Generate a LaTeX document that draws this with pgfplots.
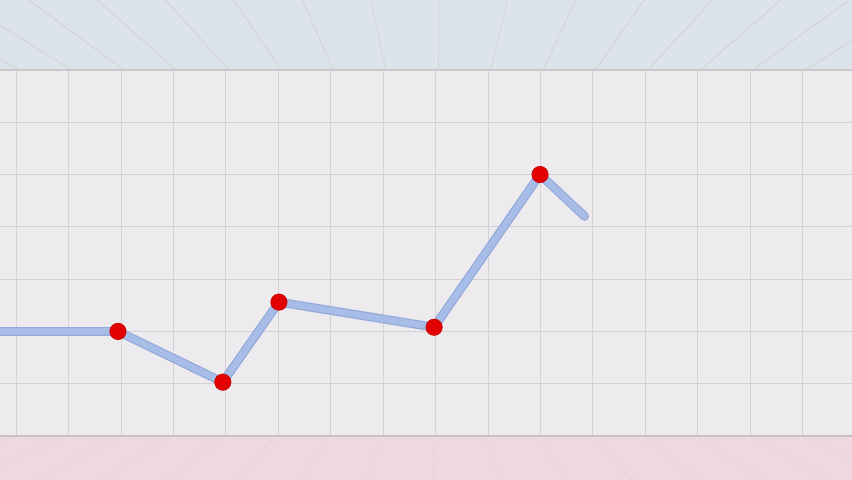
\documentclass[border=0pt]{standalone}
\usepackage{pgfplots}
\pgfplotsset{compat=1.18}
\definecolor{wallc}{HTML}{EEEBEF}
\definecolor{ceilc}{HTML}{DCE3EB}
\definecolor{floorc}{HTML}{EED9E0}
\definecolor{gridc}{HTML}{D4D0D5}
\definecolor{linec}{HTML}{A8BCE8}
\definecolor{lineedge}{HTML}{93A9DA}
\definecolor{dotc}{HTML}{E30000}
\begin{document}
\begin{tikzpicture}
\begin{axis}[
    scale only axis,
    width=426pt, height=240pt,
    xmin=-0.25, xmax=16,
    ymin=-0.841, ymax=8.337,
    axis lines=none,
    ticks=none,
    clip=true,
]
% background: ceiling, wall, floor
\fill[ceilc] (axis cs:-0.25,7) rectangle (axis cs:16,8.337);
\fill[wallc] (axis cs:-0.25,0) rectangle (axis cs:16,7);
\fill[floorc] (axis cs:-0.25,-0.841) rectangle (axis cs:16,0);
% perspective lines on ceiling and floor, wall grid
\pgfplotsinvokeforeach{0,...,15}{
  \draw[ceilc!75!gray!80, line width=0.45pt] (axis cs:#1+0.11,7) -- (axis cs:{8.07+(#1+0.11-8.07)*1.304},8.337);
  \draw[floorc!85!gray!80, line width=0.4pt] (axis cs:#1+0.02,0) -- (axis cs:{8.07+(#1+0.02-8.07)*1.265},-0.841);
  \draw[gridc, line width=0.5pt] (axis cs:#1+0.06,0) -- (axis cs:#1+0.06,7);
}
\pgfplotsinvokeforeach{1,...,6}{
  \draw[gridc, line width=0.5pt] (axis cs:-0.25,#1) -- (axis cs:16,#1);
}
\draw[gridc!90!gray, line width=0.8pt] (axis cs:-0.25,7) -- (axis cs:16,7);
\draw[floorc!70!gray, line width=0.8pt] (axis cs:-0.25,0) -- (axis cs:16,0);
% data line
\addplot[lineedge, line width=4.4pt, line join=round, line cap=round, no marks] coordinates {
  (-0.4,2.0) (2,2.0) (4,1.03) (5.07,2.56) (8.03,2.08) (10.05,5.0) (10.9,4.2)
};
\addplot[linec, line width=3.2pt, line join=round, line cap=round, no marks] coordinates {
  (-0.4,2.0) (2,2.0) (4,1.03) (5.07,2.56) (8.03,2.08) (10.05,5.0) (10.9,4.2)
};
\addplot[only marks, mark=*, mark size=4.1pt, mark options={fill=dotc, draw=dotc!85!black, line width=0.3pt}] coordinates {
  (2,2.0) (4,1.03) (5.07,2.56) (8.03,2.08) (10.05,5.0)
};
\end{axis}
\end{tikzpicture}
\end{document}
